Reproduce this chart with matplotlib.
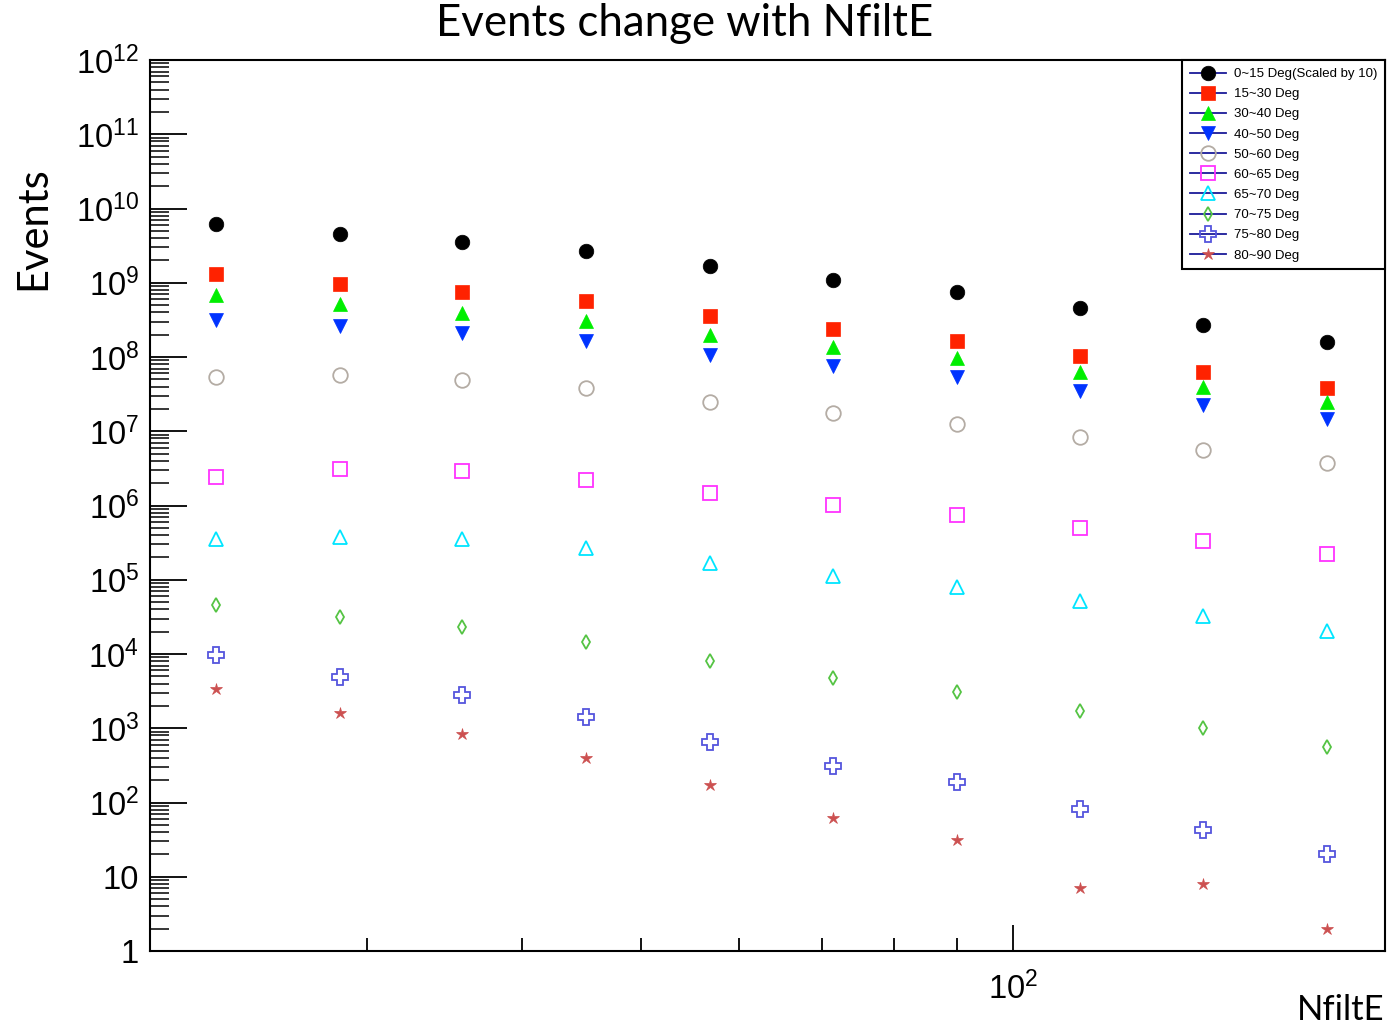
import math
import matplotlib.pyplot as plt
from matplotlib.lines import Line2D
from matplotlib.ticker import FixedLocator, LogLocator, NullFormatter, FuncFormatter

plt.rcParams['mathtext.fontset'] = 'custom'
plt.rcParams['mathtext.rm'] = 'Liberation Sans'
plt.rcParams['mathtext.it'] = 'Liberation Sans:italic'
plt.rcParams['font.family'] = ['Liberation Sans', 'DejaVu Sans']

# Data (NfiltE bins, events per angular range)
nfilte = [22.6, 28.5, 35.8, 45.1, 56.8, 71.5, 90.0, 113.2, 142.5, 179.4]

ev_0_15 = [6.2e9, 4.5e9, 3.5e9, 2.7e9, 1.7e9, 1.1e9, 7.5e8, 4.6e8, 2.7e8, 1.6e8]
ev_15_30 = [1.31e9, 9.6e8, 7.5e8, 5.7e8, 3.6e8, 2.4e8, 1.64e8, 1.03e8, 6.3e7, 3.8e7]
ev_30_40 = [6.8e8, 5.2e8, 3.9e8, 3.1e8, 2.0e8, 1.36e8, 9.7e7, 6.3e7, 3.95e7, 2.5e7]
ev_40_50 = [3.15e8, 2.6e8, 2.1e8, 1.64e8, 1.06e8, 7.6e7, 5.4e7, 3.5e7, 2.26e7, 1.46e7]
ev_50_60 = [5.4e7, 5.7e7, 4.9e7, 3.8e7, 2.5e7, 1.76e7, 1.25e7, 8.4e6, 5.6e6, 3.7e6]
ev_60_65 = [2.4e6, 3.1e6, 2.9e6, 2.2e6, 1.47e6, 1.02e6, 7.5e5, 5.0e5, 3.3e5, 2.2e5]
ev_65_70 = [3.5e5, 3.8e5, 3.5e5, 2.7e5, 1.68e5, 1.12e5, 8.0e4, 5.2e4, 3.25e4, 2.05e4]
ev_70_75 = [4.6e4, 3.15e4, 2.3e4, 1.45e4, 8.0e3, 4.75e3, 3.1e3, 1.7e3, 1.0e3, 5.6e2]
ev_75_80 = [9.7e3, 4.9e3, 2.8e3, 1.42e3, 6.5e2, 3.1e2, 1.9e2, 82, 43, 20]
ev_80_90 = [3.4e3, 1.6e3, 8.4e2, 4.0e2, 1.7e2, 62, 31, 7.0, 8.0, 2.0]

labels = ["0~15 Deg(Scaled by 10)", "15~30 Deg", "30~40 Deg", "40~50 Deg",
          "50~60 Deg", "60~65 Deg", "65~70 Deg", "70~75 Deg", "75~80 Deg", "80~90 Deg"]
series = [ev_0_15, ev_15_30, ev_30_40, ev_40_50, ev_50_60,
          ev_60_65, ev_65_70, ev_70_75, ev_75_80, ev_80_90]

# marker, colour, filled, size
styles = [
    ("o", "black", True, 10.5),
    ("s", "#ff2200", True, 10.5),
    ("^", "#00ee00", True, 10),
    ("v", "#0033ff", True, 10),
    ("o", "#b4aca4", False, 10.5),
    ("s", "#ff33ff", False, 10.5),
    ("^", "#00e5ff", False, 10.5),
    ("d", "#55c444", False, 7.5),
    ("P", "#5555dd", False, 11.5),
    ("*", "#cc5050", True, 9),
]

fig = plt.figure(figsize=(13.88, 10.26), dpi=100)
ax = fig.add_axes([150 / 1388, 75 / 1026, 1235 / 1388, 891 / 1026])

handles = []
for y, lab, (m, c, filled, ms) in zip(series, labels, styles):
    mfc = c if filled else "none"
    ax.plot(nfilte, y, linestyle="none", marker=m, ms=ms, mfc=mfc, mec=c,
            mew=1.3 if not filled else 0.5)
    handles.append(Line2D([], [], color="#1a1a99", lw=1.3, marker=m, ms=ms,
                          mfc=mfc, mec=c, mew=1.3 if not filled else 0.5, label=lab))

ax.set_xscale("log")
ax.set_yscale("log")
ax.set_xlim(20, 200)
ax.set_ylim(1, 1e12)

for s in ax.spines.values():
    s.set_linewidth(1.5)

ax.yaxis.set_major_locator(LogLocator(base=10, numticks=20))
ax.yaxis.set_minor_locator(LogLocator(base=10, subs=range(2, 10), numticks=200))
ax.yaxis.set_minor_formatter(NullFormatter())


def ylab(v, pos):
    if v == 1:
        return "1"
    if v == 10:
        return "10"
    return r"$\mathregular{10^{%d}}$" % round(math.log10(v))


ax.yaxis.set_major_formatter(FuncFormatter(ylab))
ax.xaxis.set_major_locator(FixedLocator([100]))
ax.xaxis.set_minor_locator(FixedLocator([30, 40, 50, 60, 70, 80, 90]))
ax.xaxis.set_major_formatter(FuncFormatter(lambda v, p: r"$\mathregular{10^{2}}$"))
ax.xaxis.set_minor_formatter(NullFormatter())

ax.tick_params(axis="y", which="major", direction="in", length=26.5, width=1.3,
               labelsize=23.5, pad=8)
ax.tick_params(axis="y", which="minor", direction="in", length=13.5, width=1.1)
ax.tick_params(axis="x", which="major", direction="in", length=18.5, width=1.3,
               labelsize=23.5, pad=15)
ax.tick_params(axis="x", which="minor", direction="in", length=9.5, width=1.3)

leg = ax.legend(handles=handles, loc="upper right", bbox_to_anchor=(1, 1),
                borderaxespad=0, fontsize=9.5, frameon=True, fancybox=False,
                edgecolor="black", framealpha=1, handlelength=2.7,
                labelspacing=0.6, borderpad=0.6, handletextpad=0.6)
leg.get_frame().set_linewidth(1.5)

fig.text(685 / 1388, 1 - 3 / 1026, "Events change with NfiltE", ha="center",
         va="top", fontsize=31.5, family=["Lato", "DejaVu Sans"])
fig.text(33 / 1388, 1 - 228 / 1026, "Events", ha="center", va="center",
         rotation=90, fontsize=30, family=["Lato", "DejaVu Sans"])
fig.text(1385 / 1388, 0, "NfiltE", ha="right", va="bottom",
         fontsize=25, family=["Lato", "DejaVu Sans"])

fig.savefig("out.png", dpi=100)
